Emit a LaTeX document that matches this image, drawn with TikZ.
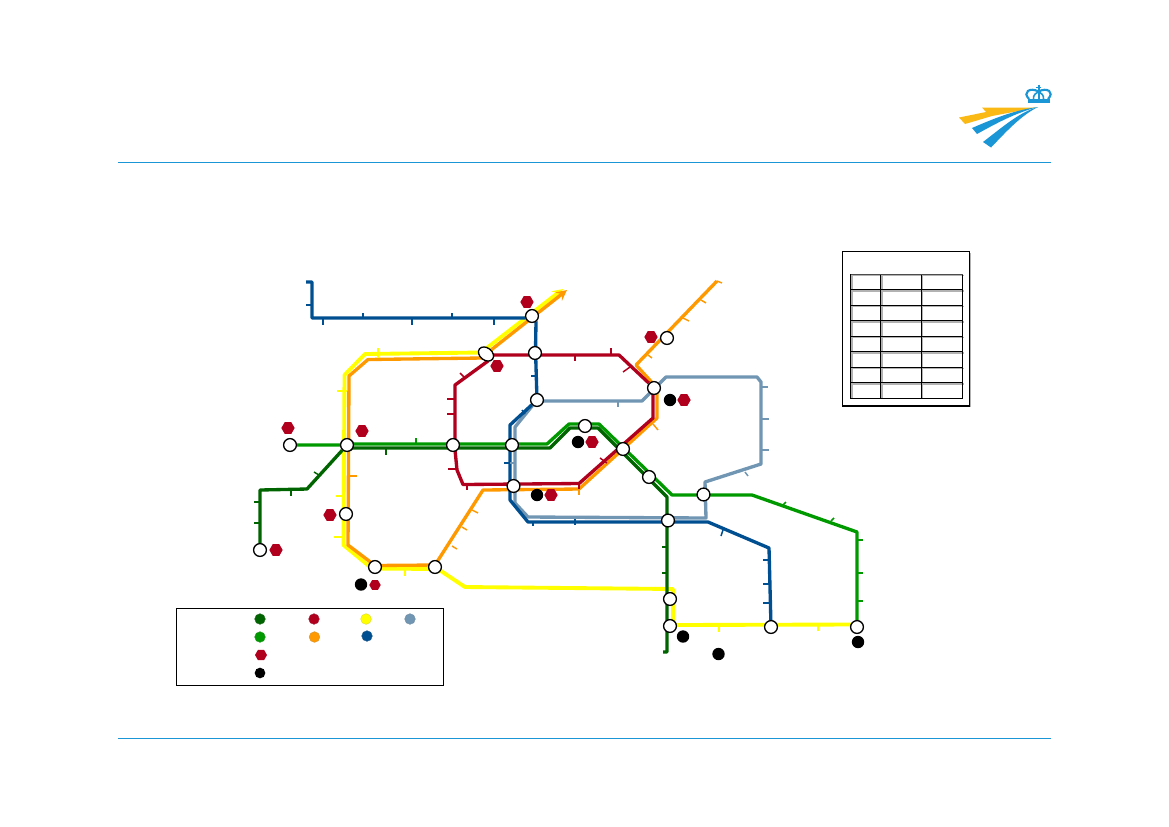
\documentclass[tikz,border=0pt]{standalone}
\usetikzlibrary{shapes.geometric,arrows.meta}
\definecolor{dg}{HTML}{006400}
\definecolor{lg}{HTML}{009A00}
\definecolor{rd}{HTML}{B0001E}
\definecolor{og}{HTML}{FF9900}
\definecolor{yl}{HTML}{FFFF00}
\definecolor{st}{HTML}{7096B4}
\definecolor{bl}{HTML}{004F91}
\definecolor{rule}{HTML}{1A96D6}
\definecolor{amber}{HTML}{FBB916}
\pgfdeclarelayer{fg}
\pgfsetlayers{main,fg}
\tikzset{
  route/.style={line width=2.5pt,line join=round,draw=#1},
  tick/.style={line width=1.1pt,draw=#1},
  station/.style={circle,draw=black,fill=white,line width=1pt,minimum size=9.6pt,inner sep=0pt},
  hexa/.style={regular polygon,regular polygon sides=6,fill=rd,inner sep=0pt,minimum size=#1},
  hexa/.default=10pt,
  blackdot/.style={circle,fill=black,inner sep=0pt,minimum size=9.3pt},
  legdot/.style={circle,fill=#1,draw=#1!70!gray,line width=0.3pt,inner sep=0pt,minimum size=8pt},
  boxline/.style={draw=black,line width=0.85pt},
  gridgrey/.style={draw=black!30,line width=1pt},
  headrule/.style={draw=rule,line width=0.75pt}
}
\begin{document}
\begin{tikzpicture}[x=0.75pt,y=-0.75pt]
\useasboundingbox (0,0) rectangle (1169,826);
\fill[white] (0,0) rectangle (1169,826);
% header and footer rules
\draw[headrule] (118,162.5) -- (1051,162.5);
\draw[headrule] (118,738) -- (1051,738);
% logo
\fill[amber] (959,117.5) -- (986,112) -- (982,107.5) -- (1037,107.5) -- (992,116) -- (965,124) -- cycle;
\fill[rule] (1038,107) .. controls (1015,110) and (995,118) .. (972,128) -- (977,134) .. controls (995,124) and (1015,113) .. (1038,107) -- cycle;
\fill[rule] (1038,107) .. controls (1020,112) and (1005,125) .. (983,142) -- (991,147.5) .. controls (1005,133) and (1020,116) .. (1038,107) -- cycle;
\fill[rule] (1027.5,98.5) rectangle (1050,103);
\draw[rule,line width=1.6pt] (1029,99) .. controls (1022,92) and (1030,87) .. (1038.5,91.5) .. controls (1047,87) and (1055,92) .. (1048,99);
\draw[rule,line width=1.2pt] (1033.5,99) .. controls (1033,95) and (1036,93) .. (1038.5,91.5) .. controls (1041,93) and (1044,95) .. (1043.5,99);
\draw[rule,line width=1.5pt] (1038.5,84.5) -- (1038.5,99);
\draw[rule,line width=1.2pt] (1036,87.5) -- (1041,87.5);
% stations
\begin{pgfonlayer}{fg}
\node[station] (s1) at (532,316) {};
\node[ellipse,draw=black,fill=white,line width=1pt,minimum width=12.5pt,minimum height=9.2pt,inner sep=0pt,rotate=-38] (s2) at (486,354) {};
\node[station] (s3) at (535,353) {};
\node[station] (s4) at (537,400) {};
\node[station] (s5) at (654,388) {};
\node[station] (s6) at (667,338) {};
\node[station] (s7) at (585,426) {};
\node[station] (s8) at (623,449) {};
\node[station] (s9) at (649,477) {};
\node[station] (s10) at (703.5,494.5) {};
\node[station] (s11) at (668,520.5) {};
\node[station] (s12) at (670,599) {};
\node[station] (s13) at (670,626) {};
\node[station] (s14) at (771,627) {};
\node[station] (s15) at (857,627) {};
\node[station] (s16) at (513.5,486) {};
\node[station] (s17) at (512,445) {};
\node[station] (s18) at (453,445) {};
\node[station] (s19) at (347,445) {};
\node[station] (s20) at (290,445) {};
\node[station] (s21) at (346,514) {};
\node[station] (s22) at (260,550) {};
\node[station] (s23) at (375,567) {};
\node[station] (s24) at (435,567) {};
\end{pgfonlayer}
% yellow
\draw[route=yl,line width=2.9pt,-{Stealth[length=8pt,width=8pt,inset=3pt]}] (s15) -- (852,624.5) -- (673,625) -- (673,589) -- (465,587) -- (s24) -- (437,569) -- (372,568.5) -- (343.5,545) -- (344.5,375) -- (365,354) -- (481,352.5) -- (563,289);
% orange
\draw[route=og,-{Stealth[length=8pt,width=8pt,inset=3pt]}] (717,281) -- (636,365) -- (657,388) -- (657,418) -- (579,489) -- (483,490) -- (435,565) -- (375,565.5) -- (348,545) -- (349,376) -- (368,359.5) -- (482,358) -- (s2) -- (567,290);
% steel blue
\draw[route=st] (s4) -- (543,401) -- (642,401) -- (666,377) -- (757,377) -- (761,382) -- (761,464) -- (705,482) -- (706,518) -- (528,517) -- (515,503) -- (515,427) -- (s4);
% blue
\draw[route=bl] (306,282) -- (312,282) -- (312,318) -- (525,318) -- (s1);
\draw[route=bl] (s1) -- (536,322) -- (535.5,350) -- (s4) -- (510,425) -- (510,500) -- (528,522) -- (708,522) -- (769,548) -- (s14);
% red
\draw[route=rd] (s2) -- (490,355) -- (619,355) -- (s5) -- (653,392) -- (653,418) -- (579,483.5) -- (463,484.5) -- (457,470) -- (455,450) -- (455,385) -- (488,361) -- (s2);
% light green
\draw[route=lg] (s20) -- (s19) -- (350,444) -- (547,444) -- (569,424) -- (599,424) -- (672,495) -- (752,495) -- (857,532) -- (s15);
% dark green
\draw[route=dg] (s22) -- (260,490) -- (307,489) -- (s19);
\draw[route=dg] (s19) -- (350,448) -- (550,448) -- (570,428) -- (598,428) -- (667,497) -- (667,652) -- (663,652);
% ticks
\foreach \xa/\ya/\xb/\yb in {306/305/312/305,323/318/323/325,363/313/363/318,412/318/412/325,452/313/452/318,494/318/494/325,531/376/537/376,522/410/525/414,504/463/510/463,533/522/533/526,575/519/575/525,723/530/721/536,763/560/769/560,763/584/770/584,763/603/770/603}
  \draw[tick=bl] (\xa,\ya) -- (\xb,\yb);
\foreach \xa/\ya/\xb/\yb in {618/402/618/407,761/387/768/387,761/419/769/419,761/450/769/450,745/472/748/476,510/463/515/463}
  \draw[tick=st] (\xa,\ya) -- (\xb,\yb);
\foreach \xa/\ya/\xb/\yb in {460/373/464/377,447/399/455/399,447/414/455/414,448/469/456/469,467/485/467/490,575/355/575/361,611/348/611/355,623/372/630/367,600/458/607/463,579/482/579/489}
  \draw[tick=rd] (\xa,\ya) -- (\xb,\yb);
\foreach \xa/\ya/\xb/\yb in {349/476/357/476,472/510/478/513,462/527/467/530,452/546/457/549,648/355/652/358,683/318/689/321,701/300/706/303,717/281/722/283,653/424/658/430,579/489/579/495}
  \draw[tick=og] (\xa,\ya) -- (\xb,\yb);
\foreach \xa/\ya/\xb/\yb in {378/348/378/358,337/391/347/391,336/496/345/496,334/537/345/537,405/567/405/576,719/625/719/632,818/625/818/631}
  \draw[tick=yl] (\xa,\ya) -- (\xb,\yb);
\foreach \xa/\ya/\xb/\yb in {386/448/386/455,314/472/319/475,291/490/291/496,254/502/260/502,254/523/260/523,662/547/667/547,662/573/667/573}
  \draw[tick=dg] (\xa,\ya) -- (\xb,\yb);
\foreach \xa/\ya/\xb/\yb in {416/438/416/444,783/505/786/502,831/521/834/518,857/540/863/540,857/573/863/573,857/601/863/601}
  \draw[tick=lg] (\xa,\ya) -- (\xb,\yb);
% hexagon and black markers
\node[hexa] (h1) at (527,302) {};
\node[hexa] (h2) at (497,366) {};
\node[hexa] (h3) at (651,337) {};
\node[hexa] (h4) at (684,400) {};
\node[hexa] (h5) at (592,442) {};
\node[hexa] (h6) at (551,495) {};
\node[hexa] (h7) at (288,428) {};
\node[hexa] (h8) at (362,431) {};
\node[hexa] (h9) at (330,515) {};
\node[hexa] (h10) at (276,550) {};
\node[hexa=8.6pt] (h11) at (375,585) {};
\node[blackdot] (b1) at (670,400) {};
\node[blackdot] (b2) at (578,442) {};
\node[blackdot] (b3) at (537,495) {};
\node[blackdot] (b4) at (361,584.5) {};
\node[blackdot] (b5) at (683,636.5) {};
\node[blackdot] (b6) at (718.5,654) {};
\node[blackdot] (b7) at (858,642) {};
% legend
\draw[boxline] (176.5,608.5) rectangle (443.5,685.5);
\node[legdot=dg] (l1) at (260,619) {};
\node[legdot=rd] (l2) at (314,619) {};
\node[legdot=yl] (l3) at (366,619) {};
\node[legdot=st] (l4) at (410,619) {};
\node[legdot=lg] (l5) at (260,637) {};
\node[legdot=og] (l6) at (314.5,637) {};
\node[legdot=bl] (l7) at (367,636) {};
\node[hexa=9pt] (l8) at (261,655) {};
\node[circle,fill=black,inner sep=0pt,minimum size=8pt] (l9) at (260,673) {};
% table
\draw[draw=black!30,line width=0.8pt] (970.8,253) -- (970.8,407);
\foreach \y in {275.5,291,306.5,322,337.5,353,368.5,384}
  \draw[gridgrey] (851.5,\y) -- (963.5,\y);
\foreach \x in {852,882,922.5}
  \draw[gridgrey] (\x,275) -- (\x,397.5);
\draw[boxline] (842.5,251.5) rectangle (969.5,406);
\foreach \y in {289.5,305.5,320.5,336.5,351.5,367.5,382.5,398.5}
  \draw[boxline] (850.5,\y) -- (962.5,\y);
\foreach \x in {850.5,880.5,921.5,962.5}
  \draw[boxline] (\x,274) -- (\x,398.5);
\draw[draw=black!70,line width=0.6pt] (850.5,274) -- (962.5,274);
\end{tikzpicture}
\end{document}
